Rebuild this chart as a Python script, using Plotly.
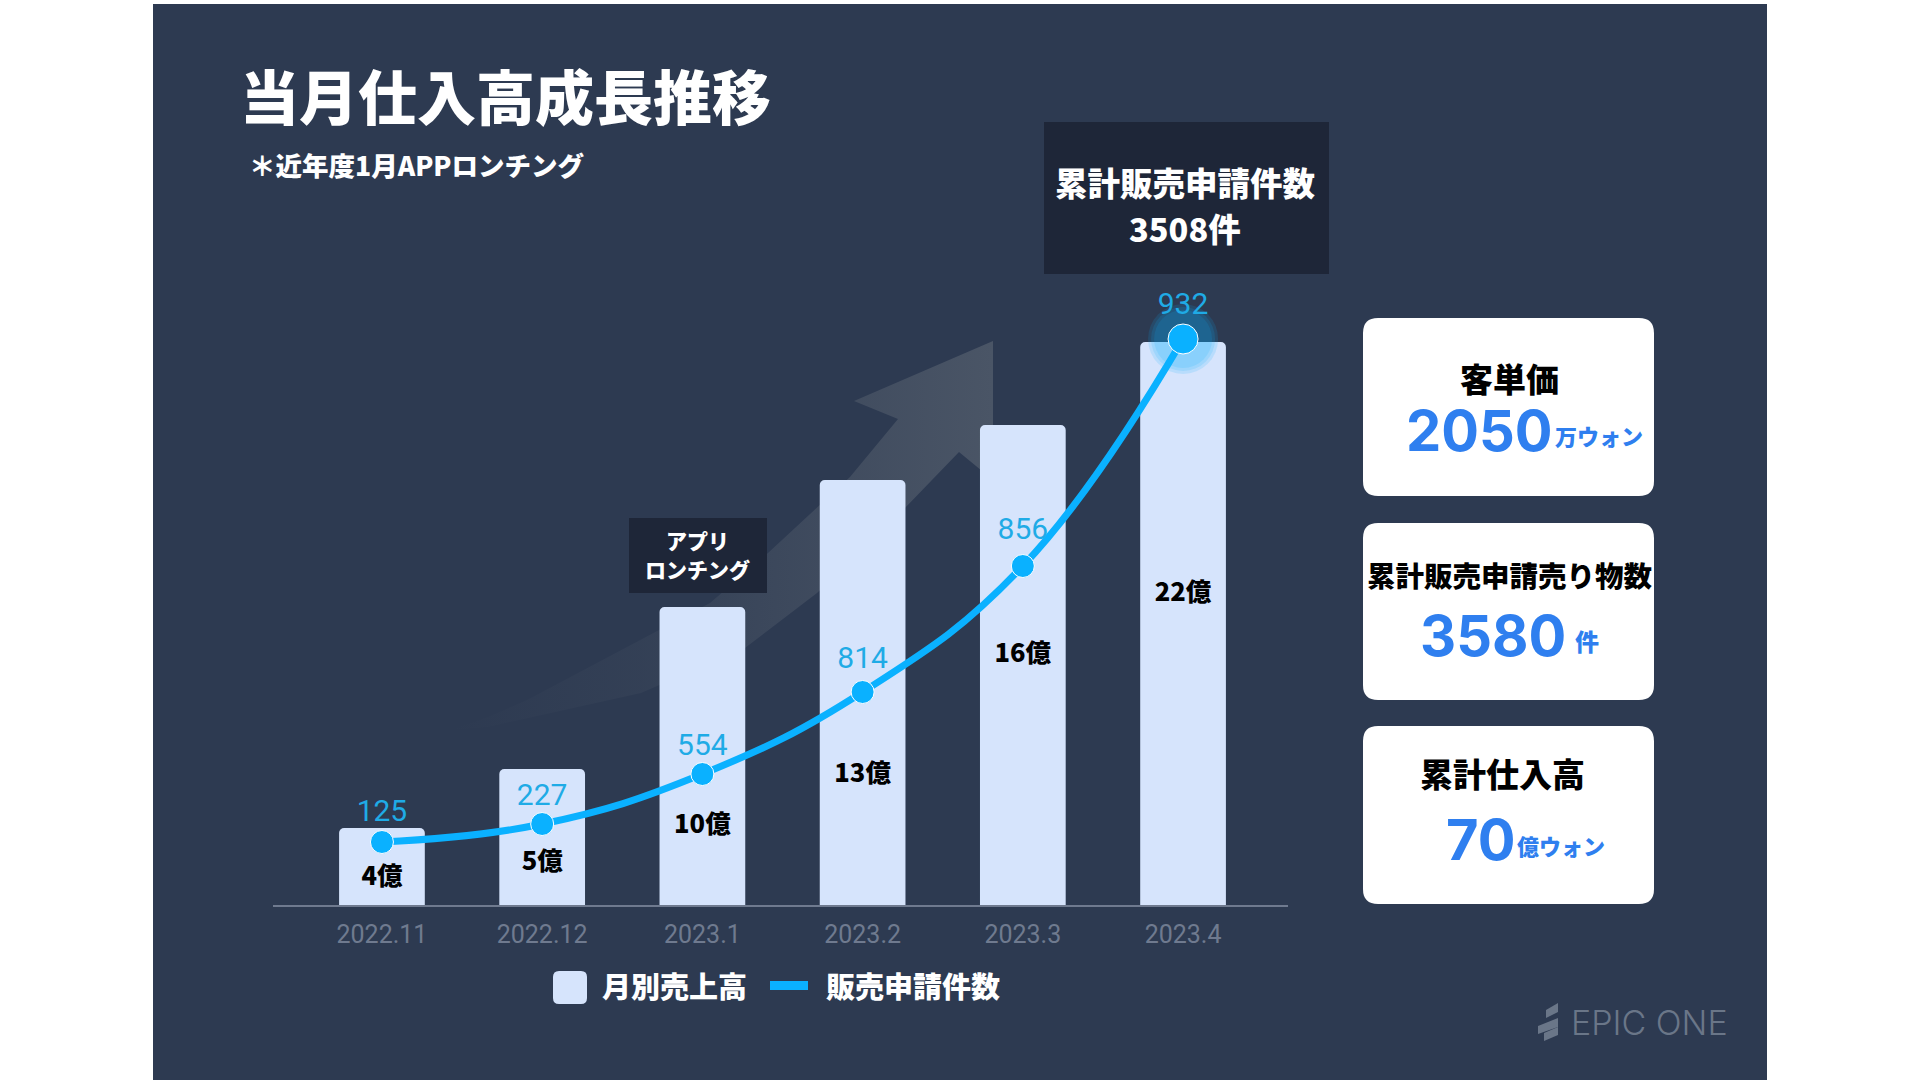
import plotly.graph_objects as go

W, H = 1920, 1080
JP = "Noto Sans CJK JP"

BG = "#2d3a51"
DARK = "#1e2638"
BAR = "#d6e4fc"
CYAN = "#0ab1ff"
LABEL = "#1fabe6"
BLUE = "#2f7fef"
GREY = "#6f7a8f"
LOGO = "#6a7688"

months = ["2022.11", "2022.12", "2023.1", "2023.2", "2023.3", "2023.4"]
# bars and line are not to a common scale in the original, heights are as drawn
bar_heights = [77, 136, 298, 425, 480, 563]
bar_labels = ["4億", "5億", "10億", "13億", "16億", "22億"]
bar_label_heights = [26, 41, 78, 129, 249, 310]
line_heights = [63, 81, 131, 213, 339, 566]
line_labels = ["125", "227", "554", "814", "856", "932"]
line_label_heights = [92, 108, 158, 245, 374, 599]
marker_sizes = [23, 23, 23, 23, 23, 30]

# faded arrow behind the bars, in page pixels
arrow_x = [450, 488, 527, 710, 768, 850, 898, 854, 993, 993, 959, 903, 817, 745, 641, 488, 450]
arrow_y = [730, 717, 700, 603, 553, 477, 419, 401, 341, 480, 452, 510, 593, 648, 693, 727, 730]

# logo pieces, page pixels
logo_pieces = [
    [(1546, 1010), (1558, 1003), (1558, 1012), (1546, 1018)],
    [(1538, 1026), (1558, 1018), (1558, 1027), (1538, 1034)],
    [(1544, 1033), (1558, 1027), (1558, 1035), (1544, 1041)],
]

fig = go.Figure()

fig.add_trace(
    go.Scatter(
        x=arrow_x,
        y=arrow_y,
        mode="lines",
        line_width=0,
        fill="toself",
        fillgradient=dict(
            type="horizontal",
            colorscale=[[0, "rgba(74,85,102,0)"], [0.35, "rgba(74,85,102,0.22)"], [1, "rgba(74,85,102,1)"]],
        ),
        hoverinfo="skip",
        showlegend=False,
    )
)

fig.add_trace(
    go.Bar(x=months, y=bar_heights, width=0.535, marker_color=BAR, marker_line_width=0, name="月別売上高", xaxis="x2", yaxis="y2")
)
# soft glow on the last point
for size in [70, 64, 58]:
    fig.add_trace(
        go.Scatter(
            x=months[-1:],
            y=line_heights[-1:],
            mode="markers",
            marker=dict(size=size, color="rgba(10,177,255,0.14)"),
            showlegend=False,
            cliponaxis=False,
            xaxis="x2",
            yaxis="y2",
        )
    )
fig.add_trace(
    go.Scatter(
        x=months,
        y=line_heights,
        mode="lines+markers",
        line=dict(color=CYAN, width=7, shape="spline", smoothing=1.2),
        marker=dict(size=marker_sizes, color=CYAN, opacity=1),
        name="販売申請件数",
        cliponaxis=False,
        xaxis="x2",
        yaxis="y2",
    )
)
fig.add_trace(
    go.Scatter(
        x=months,
        y=line_label_heights,
        mode="text",
        text=line_labels,
        textposition="middle center",
        textfont=dict(family="Roboto", size=30, color=LABEL),
        showlegend=False,
        cliponaxis=False,
        xaxis="x2",
        yaxis="y2",
    )
)
fig.add_trace(
    go.Scatter(
        x=months,
        y=bar_label_heights,
        mode="text",
        text=bar_labels,
        textposition="middle center",
        textfont=dict(family=JP, size=25.5, color="black", weight=900),
        showlegend=False,
        cliponaxis=False,
        xaxis="x2",
        yaxis="y2",
    )
)


def add_box(x0, y0, x1, y1, color, r=0, layer="above"):
    if r:
        path = (
            f"M{x0+r},{y0} L{x1-r},{y0} Q{x1},{y0} {x1},{y0+r} L{x1},{y1-r} Q{x1},{y1} {x1-r},{y1} "
            f"L{x0+r},{y1} Q{x0},{y1} {x0},{y1-r} L{x0},{y0+r} Q{x0},{y0} {x0+r},{y0} Z"
        )
        fig.add_shape(type="path", path=path, xref="x", yref="y", fillcolor=color, line_width=0, layer=layer)
    else:
        fig.add_shape(type="rect", x0=x0, x1=x1, y0=y0, y1=y1, xref="x", yref="y", fillcolor=color, line_width=0, layer=layer)


def add_text(x, y, text, size, color="white", weight=700, family=JP, anchor="center"):
    fig.add_annotation(
        x=x,
        y=y,
        xref="x",
        yref="y",
        text=text,
        showarrow=False,
        xanchor=anchor,
        yanchor="middle",
        font=dict(family=family, size=size, color=color, weight=weight),
    )


add_box(153, 4, 1767, 1080, BG, layer="below")

add_text(238, 94, "当月仕入高成長推移", 59, weight=900, anchor="left")
add_text(247, 164, "＊近年度1月APPロンチング", 26.5, weight=900, anchor="left")

add_box(1044, 122, 1329, 274, DARK)
add_text(1185, 181.5, "累計販売申請件数", 32.5, weight=900)
add_text(1185, 227.5, "3508件", 32.5, weight=900)

add_box(629, 518, 767, 593, DARK)
add_text(697, 540, "アプリ", 21, weight=900)
add_text(697, 569, "ロンチング", 21, weight=900)

add_box(1363, 318, 1654, 496, "white", r=15)
add_box(1363, 523, 1654, 700, "white", r=15)
add_box(1363, 726, 1654, 904, "white", r=15)

add_text(1509, 378, "客単価", 33, "black", 900)
add_text(1479, 431, "2050", 56, BLUE, 700, "Inter")
add_text(1599, 435, "万ウォン", 22, BLUE, 900)
add_text(1510, 574, "累計販売申請売り物数", 28.5, "black", 900)
add_text(1493, 636, "3580", 56, BLUE, 700, "Inter")
add_text(1587, 640, "件", 24, BLUE, 900)
add_text(1502, 773, "累計仕入高", 33, "black", 900)
add_text(1480, 840, "70", 56, BLUE, 700, "Inter")
add_text(1561, 845, "億ウォン", 22, BLUE, 900)

# hand made legend, the swatches are bigger than plotly's
add_box(553, 971, 587, 1004, BAR, r=6)
add_text(600, 985, "月別売上高", 29, weight=900, anchor="left")
add_box(770, 981, 808, 990, CYAN)
add_text(824, 985, "販売申請件数", 29, weight=900, anchor="left")

# logo
for piece in logo_pieces:
    path = "M" + " L".join(f"{x},{y}" for x, y in piece) + " Z"
    fig.add_shape(type="path", path=path, xref="x", yref="y", fillcolor=LOGO, line_width=0)
add_text(1569, 1022, "EPIC ONE", 34, LOGO, 300, "Inter", "left")

fig.update_layout(
    width=W,
    height=H,
    margin=dict(l=0, r=0, t=0, b=0),
    paper_bgcolor="white",
    plot_bgcolor="rgba(0,0,0,0)",
    showlegend=False,
    barcornerradius=5,
    xaxis=dict(domain=[0, 1], range=[0, W], visible=False),
    yaxis=dict(domain=[0, 1], range=[H, 0], visible=False),
    xaxis2=dict(
        domain=[273 / W, 1288 / W],
        anchor="y2",
        type="category",
        categoryorder="array",
        categoryarray=months,
        range=[-0.68, 5.655],
        showline=True,
        linecolor=GREY,
        linewidth=2,
        showgrid=False,
        ticks="",
        ticklabelstandoff=6,
        tickfont=dict(family="Roboto", size=25, color=GREY),
    ),
    yaxis2=dict(domain=[175 / H, 815 / H], anchor="x2", range=[0, 640], visible=False),
)

fig.write_html("out.html", config={"displayModeBar": False}, post_script="document.body.style.margin='0'")
